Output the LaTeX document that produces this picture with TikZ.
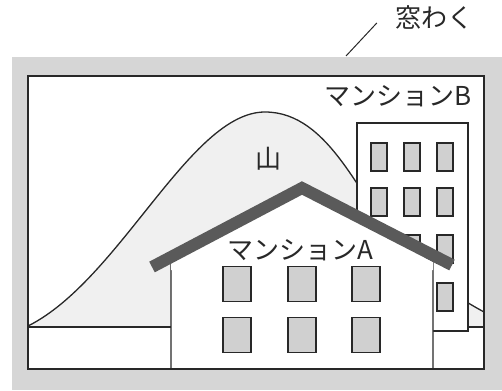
\documentclass[tikz,border=0pt]{standalone}
\usepackage{fontspec}
\setmainfont{Noto Sans CJK JP}
\usepackage{tikz}
\usetikzlibrary{positioning, calc}
\definecolor{framegray}{RGB}{214,214,214}
\definecolor{hillgray}{RGB}{240,240,240}
\definecolor{wingray}{RGB}{208,208,208}
\definecolor{roofgray}{RGB}{90,90,90}
\definecolor{inkgray}{RGB}{40,40,40}

\begin{document}
\begin{tikzpicture}[x=1pt, y=-1pt,
    outline/.style={draw=inkgray, line width=1.3pt},
    win/.style={rectangle, draw=inkgray, line width=1.3pt, fill=wingray, inner sep=0pt},
    bigwin/.style={win, minimum width=28pt, minimum height=35pt},
    slimwin/.style={win, minimum width=16pt, minimum height=28pt},
    lbl/.style={font=\fontsize{26}{28}\selectfont, text=inkgray, inner sep=0pt}]
    \useasboundingbox (0,0) rectangle (502,390);
    % window frame and opening
    \fill[framegray] (12,57) rectangle (502,390);
    \fill[white] (28,76) rectangle (484,369);
    % the hill behind
    \fill[hillgray] (28,327) -- (28,326) .. controls (120,280) and (190,112) .. (265,112)
        .. controls (330,112) and (360,200) .. (400,245)
        .. controls (430,280) and (455,296) .. (484,312) -- (484,327) -- cycle;
    \draw[outline] (28,326) .. controls (120,280) and (190,112) .. (265,112)
        .. controls (330,112) and (360,200) .. (400,245)
        .. controls (430,280) and (455,296) .. (484,312);
    \draw[outline] (28,327) -- (484,327);
    % building B
    \filldraw[outline, fill=white] (357,123) rectangle (468,331);
    \foreach \r/\y in {1/157, 2/202, 3/249, 4/297}
        \foreach \c/\x in {1/379, 2/412, 3/445}
            \node[slimwin] (b-\r-\c) at (\x,\y) {};
    % building A with its gable
    \filldraw[outline, fill=white] (171,369) -- (171,262) -- (302,190) -- (433,262) -- (433,369);
    \fill[white] (171,262) -- (302,190) -- (433,262) -- (433,270) -- (171,270) -- cycle;
    \foreach \r/\y in {1/284, 2/335}
        \foreach \c/\x in {1/237, 2/302, 3/366}
            \node[bigwin] (a-\r-\c) at (\x,\y) {};
    \draw[roofgray, line width=12pt] (152,267) -- (302,188) -- (452,265);
    % opening edge on top
    \draw[outline] (28,76) rectangle (484,369);
    % labels
    \node[lbl] (hill) at (268,159) {山};
    \node[lbl] (nameA) at (300,250) {マンションA};
    \node[lbl] (nameB) at (398,96) {マンションB};
    \node[lbl] (waku) at (434,18) {窓わく};
    \coordinate (wakutip) at (346,56);
    \draw[inkgray, line width=1pt] (wakutip) -- ([shift={(-18,5)}]waku.west);
\end{tikzpicture}
\end{document}
